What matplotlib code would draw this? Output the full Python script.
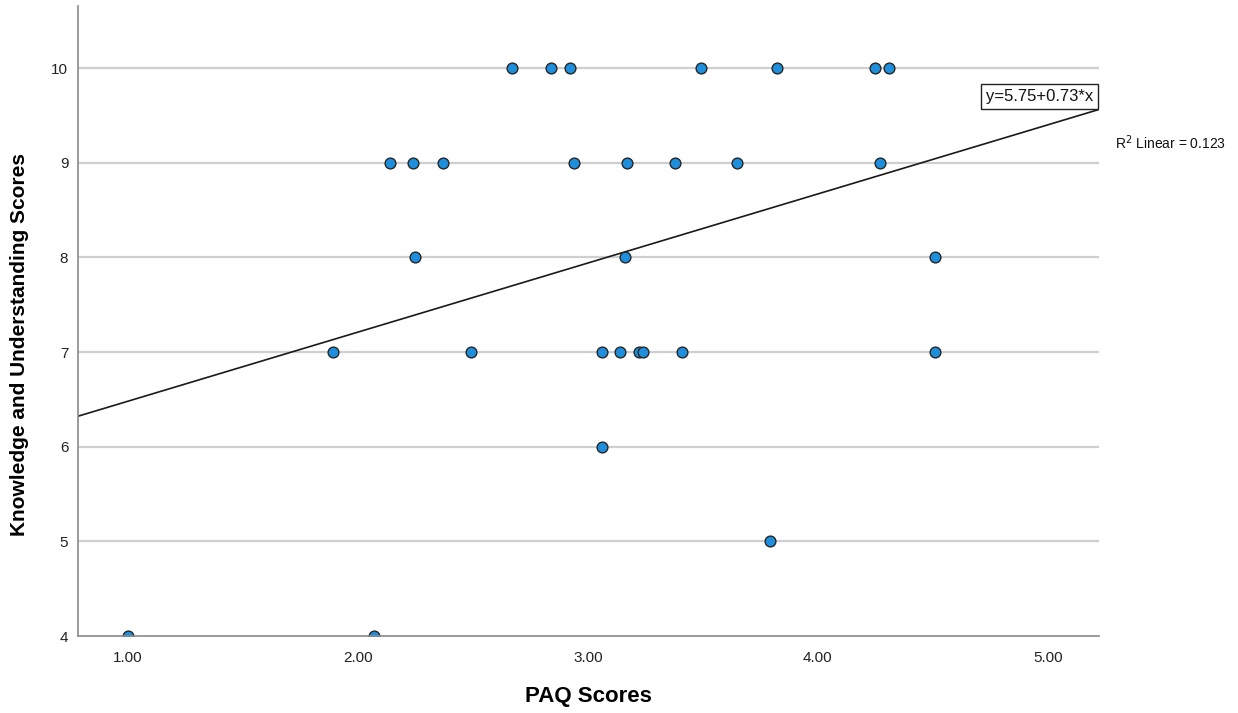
import numpy as np
import matplotlib
matplotlib.use("Agg")
import matplotlib.pyplot as plt

plt.rcParams['font.family'] = ['Liberation Sans', 'DejaVu Sans']

# PAQ score / knowledge score pairs
paq = [2.67, 2.84, 2.92, 3.49, 3.82, 4.25, 4.31,
       2.14, 2.24, 2.37, 2.94, 3.17, 3.38, 3.65, 4.27,
       2.25, 3.16, 4.51,
       1.89, 2.49, 3.06, 3.14, 3.22, 3.24, 3.41, 4.51,
       3.06,
       3.79,
       1.00, 2.07]
knowledge = [10, 10, 10, 10, 10, 10, 10,
             9, 9, 9, 9, 9, 9, 9, 9,
             8, 8, 8,
             7, 7, 7, 7, 7, 7, 7, 7,
             6,
             5,
             4, 4]

intercept = 5.75
slope = 0.73
r2 = 0.123

x_ticks = [1, 2, 3, 4, 5]
y_ticks = [4, 5, 6, 7, 8, 9, 10]

fig = plt.figure(figsize=(12.38, 7.13), dpi=100)
ax = fig.add_axes([78/1238, 1 - 636/713, (1099-78)/1238, (636-6)/713])

xmin, xmax = 0.783, 5.222
ax.set_xlim(xmin, xmax)
ax.set_ylim(4, 10.655)

# gridlines
for yt in y_ticks[1:]:
    ax.axhline(yt, color="#cfcfcf", lw=1.6, zorder=1)

# fit line
lx = np.array([xmin, xmax])
ax.plot(lx, intercept + slope * lx, color="#1a1a1a", lw=1.2, zorder=2)

# points on the bottom row get cut by the axis, like the original
ax.scatter(paq, knowledge, s=60, color="#1e8fdc", edgecolor="#262626",
           linewidth=1.0, zorder=3)

for s in ["top", "right"]:
    ax.spines[s].set_visible(False)
for s in ["left", "bottom"]:
    ax.spines[s].set_color("#8a8a8a")
    ax.spines[s].set_linewidth(1.2)
    ax.spines[s].set_zorder(4)

ax.set_xticks(x_ticks)
ax.set_xticklabels(["%.2f" % v for v in x_ticks])
ax.set_yticks(y_ticks)
ax.tick_params(length=0, labelsize=11, colors="#222222", pad=7)
ax.tick_params(axis="x", pad=11)

ax.set_xlabel("PAQ Scores", fontsize=16, fontweight="bold", labelpad=15)
fig.text(20/1238, 1 - 345/713, "Knowledge and Understanding Scores",
         rotation=90, fontsize=15, fontweight="bold", ha="center", va="center")

# equation box sitting on the end of the fit line
ax.annotate("y=%.2f+%.2f*x" % (intercept, slope),
            xy=(xmax, intercept + slope * xmax), xytext=(-4, 4),
            textcoords="offset points", ha="right", va="bottom",
            fontsize=12, color="#111111",
            bbox=dict(boxstyle="square,pad=0.3", fc="white", ec="#222222", lw=1.0),
            annotation_clip=False, zorder=5)

fig.text(1115/1238, 1 - 143/713, "R$^2$ Linear = %.3f" % r2,
         fontsize=10, ha="left", va="center", color="#111111")

fig.savefig("out.png", dpi=100)
